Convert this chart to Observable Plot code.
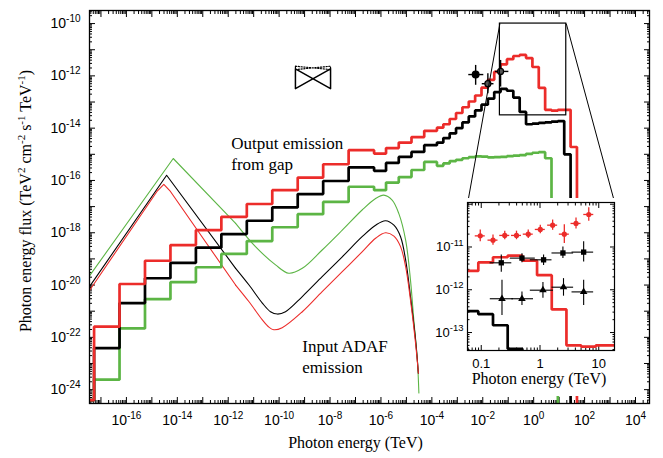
<!DOCTYPE html>
<html><head><meta charset="utf-8">
<script src="https://cdn.jsdelivr.net/npm/d3@7"></script>
<script src="https://cdn.jsdelivr.net/npm/@observablehq/plot@0.6"></script>
<style>
body{margin:0;background:#fff;}
#wrap{position:relative;width:663px;height:458px;}
#inset{position:absolute;left:423px;top:198px;line-height:0;}
#main{line-height:0;}
</style></head><body><div id="wrap"><div id="main"></div><div id="inset"></div></div>
<script>
// ---------------- data (log10 values) ----------------
// photon energy bin edges of the gap output spectra (log10 TeV)
const binEdges = [-17.27,-16.27,-15.27,-14.27,-13.27,-12.27,-11.27,-10.27,-9.27,-8.27,-7.27,-6.27,-5.8,-5.3,-4.8,-4.3,-3.8,-3.55,-3.3,-3.05,-2.8,-2.55,-2.3,-2.05,-1.8,-1.55,-1.3,-1.05,-0.8,-0.55,-0.3,-0.05,0.2,0.45,0.7,0.95,1.2,1.45,1.7];
// output emission from gap (log10 flux per bin)
const gapRed = [-21.59,-19.96,-19.07,-18.47,-17.90,-17.39,-16.90,-16.37,-15.89,-15.38,-14.84,-14.97,-14.76,-14.55,-14.34,-14.10,-13.98,-13.85,-13.65,-13.42,-13.2,-12.98,-12.75,-12.45,-12.15,-11.85,-11.56,-11.36,-11.24,-11.2,-11.32,-11.66,-12.46,-13.3,-13.33,-13.3,-13.3,-14.72];
const gapBlack = [-22.41,-20.69,-19.74,-19.15,-18.57,-18.05,-17.54,-17.03,-16.52,-16.02,-15.50,-15.63,-15.33,-15.10,-14.91,-14.65,-14.55,-14.38,-14.2,-14.0,-13.78,-13.55,-13.32,-13.1,-12.87,-12.62,-12.5,-12.57,-12.83,-13.38,-13.85,-13.83,-13.80,-13.78,-13.75,-13.73,-15.0];
const gapGreen = [-23.62,-21.66,-20.54,-19.89,-19.32,-18.81,-18.32,-17.79,-17.29,-16.82,-16.24,-16.37,-16.08,-15.87,-15.6,-15.29,-15.44,-15.35,-15.26,-15.21,-15.15,-15.11,-15.08,-15.09,-15.12,-15.11,-15.10,-15.07,-15.05,-15.03,-14.98,-14.94,-14.92,-15.15,-23.5];
const gapLeftLevel = -24.4;   // level before the first bin
const gapDropLevel = -25;     // level after the last bin

// input ADAF emission: [log10 E, log10 flux]; "Rise" = straight synchrotron part, "Hump" = smooth part
const adafGreenRise = [[-17.45,-19.65],[-14.16,-15.16],[-11.71,-17.64]];
const adafGreenHump = [[-11.71,-17.64],[-10.93,-18.53],[-10.14,-19.23],[-9.62,-19.55],[-9.09,-19.36],[-8.31,-18.66],[-7.52,-17.90],[-6.74,-17.13],[-6.21,-16.69],[-5.89,-16.56],[-5.56,-16.75],[-5.30,-17.26],[-5.03,-18.28],[-4.84,-19.81],[-4.71,-21.33],[-4.57,-22.86],[-4.51,-24.13]];
const adafBlackRise = [[-17.45,-20.06],[-14.42,-15.80],[-11.71,-19.36]];
const adafBlackHump = [[-11.71,-19.36],[-11.19,-19.99],[-10.66,-20.69],[-10.34,-21.02],[-10.07,-21.11],[-9.75,-21.02],[-9.09,-20.44],[-8.31,-19.68],[-7.52,-18.92],[-6.74,-18.15],[-6.21,-17.71],[-5.82,-17.54],[-5.49,-17.71],[-5.23,-18.15],[-5.03,-19.04],[-4.84,-20.44],[-4.64,-22.10],[-4.53,-23.37]];
const adafRedRise = [[-17.45,-20.21],[-14.8,-16.42],[-14.53,-16.15],[-14.27,-16.42],[-11.71,-20.00]];
const adafRedHump = [[-11.71,-20.00],[-11.19,-20.63],[-10.66,-21.33],[-10.40,-21.61],[-10.21,-21.71],[-9.88,-21.63],[-9.09,-21.02],[-8.31,-20.25],[-7.52,-19.49],[-6.74,-18.73],[-6.21,-18.21],[-5.82,-18.00],[-5.49,-18.13],[-5.23,-18.53],[-5.03,-19.30],[-4.84,-20.57],[-4.64,-22.22],[-4.53,-23.37]];

// X-ray bow ties (log10 E, log10 flux)
const bowtieSolid = [[-9.36,-11.73],[-7.98,-12.49],[-7.98,-11.73],[-9.36,-12.49],[-9.36,-11.73]];
const bowtieDotted = [[-9.36,-11.63],[-7.98,-11.76],[-7.98,-11.63],[-9.36,-11.76],[-9.36,-11.63]];

// observed points in main panel
const obsE = [-2.28,-1.80,-1.30];
const obsF = [-11.95,-12.30,-11.83];
const obsELo = [-2.55,-2.02,-1.50];
const obsEHi = [-1.96,-1.56,-0.975];
const obsFLo = [-12.36,-12.68,-12.43];
const obsFHi = [-11.60,-11.92,-11.41];

// inset: red points
const redPtE = [-1.017,-0.80,-0.60,-0.40,-0.20,0.005,0.215,0.414,0.613,0.83];
const redPtF = [-10.74,-10.84,-10.73,-10.73,-10.70,-10.59,-10.49,-10.70,-10.45,-10.24];
const redPtFErr = [0.14,0.12,0.10,0.10,0.10,0.10,0.12,0.22,0.13,0.16];
const redPtEErr = [0.085,0.085,0.085,0.085,0.085,0.085,0.085,0.085,0.085,0.085];
// inset: black squares
const sqE = [-0.659,-0.307,0.061,0.39,0.743];
const sqF = [-11.37,-11.26,-11.30,-11.14,-11.12];
const sqELo = [-0.85,-0.506,-0.165,0.204,0.545];
const sqEHi = [-0.48,-0.08,0.204,0.572,0.913];
const sqFLo = [-11.59,-11.37,-11.43,-11.27,-11.35];
const sqFHi = [-11.19,-11.16,-11.19,-11.0,-10.88];
// inset: black triangles
const triE = [-0.647,-0.307,0.05,0.40,0.743];
const triF = [-12.21,-12.21,-12.01,-11.94,-12.05];
const triELo = [-0.846,-0.48,-0.165,0.204,0.545];
const triEHi = [-0.45,-0.11,0.23,0.572,0.913];
const triFLo = [-12.60,-12.37,-12.2,-12.15,-12.37];
const triFHi = [-11.78,-12.05,-11.83,-11.74,-11.78];

// zoom box and connector ends (log10 E, log10 flux)
const zoomBox = {e1:-1.327, e2:1.28, f1:-10.0, f2:-13.51};
const connectorEnds = [{e:-2.59, f:-16.84}, {e:3.18, f:-16.84}];

const notes = [
  {e:-11.88, f:-15.61, text:"Output emission\nfrom gap"},
  {e:-9.09, f:-23.37, text:"Input ADAF\nemission"}
];
const yTitle = "Photon energy flux (TeV2 cm-2 s-1 TeV-1)";
const yTitleParts = [["Photon energy flux (TeV", 0], ["2", 1], [" cm", 0], ["-2", 1], [" s", 0], ["-1", 1], [" TeV", 0], ["-1", 1], [")", 0]];
const xTitle = "Photon energy (TeV)";

// ---------------- helpers ----------------
const RED = "#ec2c2a", GREEN = "#5cb545", BLACK = "#000";
const SANS = "'Liberation Sans', Arial, Helvetica, sans-serif";
const SERIF = "'Liberation Serif', 'Times New Roman', Times, serif";
const p10 = v => Math.pow(10, v);
const xDom = [-17.45, 4.55], yDom = [-24.53, -9.5];

function stepSeries(vals) {
  const pts = [{x: p10(xDom[0]), y: p10(gapLeftLevel)}];
  vals.forEach((v, i) => pts.push({x: p10(binEdges[i]), y: p10(v)}));
  pts.push({x: p10(binEdges[vals.length]), y: p10(gapDropLevel)});
  return pts;
}
const pairs = arr => arr.map(([e, f]) => ({x: p10(e), y: p10(f)}));
function minorTicks(lo, hi) {
  const out = [];
  for (let k = Math.floor(lo); k <= Math.ceil(hi); k++)
    for (let m = 2; m <= 9; m++) { const v = m * p10(k); const l = Math.log10(v); if (l > lo && l < hi) out.push(v); }
  return out;
}
const decades = (a, b, s = 1) => d3.range(a, b + 1, s).map(p10);
const expFmt = d => "10^" + Math.round(Math.log10(d));
const blank = () => "";

function tickAxes(axis, anchors, major, minor, big, small) {
  const out = [];
  for (const a of anchors) {
    out.push(axis(major, {anchor: a, tickSize: -big, tickFormat: blank, label: null}));
    out.push(axis(minor, {anchor: a, tickSize: -small, tickFormat: blank, label: null}));
  }
  return out;
}

const steps = [[gapGreen, GREEN], [gapBlack, BLACK], [gapRed, RED]];
const adaf = [[adafGreenRise, adafGreenHump, GREEN], [adafBlackRise, adafBlackHump, BLACK], [adafRedRise, adafRedHump, RED]];

const obs = obsE.map((e, i) => ({x: p10(e), y: p10(obsF[i]), xlo: p10(obsELo[i]), xhi: p10(obsEHi[i]), ylo: p10(obsFLo[i]), yhi: p10(obsFHi[i]), k: i}));

// ---------------- main chart ----------------
const main = Plot.plot({
  width: 663, height: 458,
  marginLeft: 89, marginRight: 14, marginTop: 10, marginBottom: 55,
  x: {type: "log", domain: xDom.map(p10)},
  y: {type: "log", domain: yDom.map(p10)},
  style: {fontFamily: SANS, fontSize: "14px", background: "white", color: "black"},
  marks: [
    Plot.axisY(decades(-24, -10, 2), {anchor: "left", tickSize: 0, tickPadding: 9, tickFormat: expFmt, fontSize: 14, label: null}),
    Plot.axisX(decades(-16, 4, 2), {anchor: "bottom", tickSize: 0, tickPadding: 12, tickFormat: expFmt, fontSize: 14, label: null}),
    ...tickAxes(Plot.axisY, ["left", "right"], decades(-24, -10), minorTicks(yDom[0], yDom[1]), 6, 3),
    ...tickAxes(Plot.axisX, ["bottom", "top"], decades(-17, 4), minorTicks(xDom[0], xDom[1]), 6, 3),
    // input ADAF emission
    ...adaf.flatMap(([rise, hump, c]) => [
      Plot.line(pairs(rise), {x: "x", y: "y", stroke: c, strokeWidth: 1.1, clip: true}),
      Plot.line(pairs(hump), {x: "x", y: "y", stroke: c, strokeWidth: 1.1, curve: "catmull-rom", clip: true})
    ]),
    // output emission from gap
    ...steps.map(([vals, c]) => Plot.line(stepSeries(vals), {x: "x", y: "y", stroke: c, strokeWidth: 2.7, curve: "step-after", clip: true, strokeLinejoin: "miter"})),
    // bow ties
    Plot.line(pairs(bowtieSolid), {x: "x", y: "y", stroke: BLACK, strokeWidth: 1.5}),
    Plot.line(pairs(bowtieDotted), {x: "x", y: "y", stroke: BLACK, strokeWidth: 1.2, strokeDasharray: "1.2,1.6"}),
    // observed points
    Plot.ruleY(obs, {y: "y", x1: "xlo", x2: "xhi", stroke: BLACK, strokeWidth: 1.4}),
    Plot.ruleX(obs, {x: "x", y1: "ylo", y2: "yhi", stroke: BLACK, strokeWidth: 1.4}),
    Plot.dot(obs, {x: "x", y: "y", r: d => d.k === 0 ? 3.8 : 3, fill: d => d.k === 0 ? "#000" : "#555", stroke: BLACK, strokeWidth: 1.2}),
    // zoom box + connectors
    Plot.rect([zoomBox], {x1: d => p10(d.e1), x2: d => p10(d.e2), y1: d => p10(d.f1), y2: d => p10(d.f2), fill: "none", stroke: BLACK, strokeWidth: 1.2}),
    Plot.link(connectorEnds, {x1: (d, i) => p10(i ? zoomBox.e2 : zoomBox.e1), y1: p10(zoomBox.f1), x2: d => p10(d.e), y2: d => p10(d.f), stroke: BLACK, strokeWidth: 1}),
    // annotations
    Plot.text(notes, {x: d => p10(d.e), y: d => p10(d.f), text: "text", textAnchor: "start", lineAnchor: "bottom", lineHeight: 1.25, fontSize: 17, fontFamily: SERIF, fill: BLACK}),
    Plot.text([xTitle], {frameAnchor: "bottom", dy: 44, dx: -14, textAnchor: "middle", lineAnchor: "bottom", text: d => d, fontSize: 16, fontFamily: SERIF}),
    Plot.text([yTitle], {frameAnchor: "left", dx: -64, dy: -6, rotate: -90, textAnchor: "middle", lineAnchor: "middle", text: d => d, fontSize: 16, fontFamily: SERIF}),
    Plot.frame({stroke: BLACK, strokeWidth: 1.3})
  ]
});

// ---------------- inset ----------------
const insXDom = [-1.234, 1.268], insYDom = [-13.42, -9.96];
const redPts = redPtE.map((e, i) => ({x: p10(e), y: p10(redPtF[i]), xlo: p10(e - redPtEErr[i]), xhi: p10(e + redPtEErr[i]), ylo: p10(redPtF[i] - redPtFErr[i]), yhi: p10(redPtF[i] + redPtFErr[i])}));
const sqPts = sqE.map((e, i) => ({x: p10(e), y: p10(sqF[i]), xlo: p10(sqELo[i]), xhi: p10(sqEHi[i]), ylo: p10(sqFLo[i]), yhi: p10(sqFHi[i])}));
const triPts = triE.map((e, i) => ({x: p10(e), y: p10(triF[i]), xlo: p10(triELo[i]), xhi: p10(triEHi[i]), ylo: p10(triFLo[i]), yhi: p10(triFHi[i])}));
const errMarks = (pts, c, w) => [
  Plot.ruleY(pts, {y: "y", x1: "xlo", x2: "xhi", stroke: c, strokeWidth: w, clip: true}),
  Plot.ruleX(pts, {x: "x", y1: "ylo", y2: "yhi", stroke: c, strokeWidth: w, clip: true})
];

const inset = Plot.plot({
  width: 197, height: 198,
  marginLeft: 44, marginRight: 6, marginTop: 4, marginBottom: 46,
  x: {type: "log", domain: insXDom.map(p10)},
  y: {type: "log", domain: insYDom.map(p10)},
  style: {fontFamily: SANS, fontSize: "13px", background: "white", color: "black"},
  marks: [
    Plot.axisY(decades(-13, -11), {anchor: "left", tickSize: 0, tickPadding: 4, tickFormat: expFmt, fontSize: 13, label: null}),
    Plot.axisX(decades(-1, 1), {anchor: "bottom", tickSize: 0, tickPadding: 8, tickFormat: d3.format("~g"), fontSize: 13, label: null}),
    ...tickAxes(Plot.axisY, ["left", "right"], decades(-13, -10), minorTicks(insYDom[0], insYDom[1]), 5, 2.5),
    ...tickAxes(Plot.axisX, ["bottom", "top"], decades(-1, 1), minorTicks(insXDom[0], insXDom[1]), 5, 2.5),
    Plot.line(stepSeries(gapBlack), {x: "x", y: "y", stroke: BLACK, strokeWidth: 2.7, curve: "step-after", clip: true, strokeLinejoin: "miter"}),
    Plot.line(stepSeries(gapRed), {x: "x", y: "y", stroke: RED, strokeWidth: 2.7, curve: "step-after", clip: true, strokeLinejoin: "miter"}),
    ...errMarks(redPts, RED, 1.3),
    Plot.dot(redPts, {x: "x", y: "y", r: 2.6, fill: RED, clip: true}),
    ...errMarks(sqPts, BLACK, 1.1),
    Plot.dot(sqPts, {x: "x", y: "y", symbol: "square", r: 3, fill: BLACK}),
    ...errMarks(triPts, BLACK, 1.1),
    Plot.dot(triPts, {x: "x", y: "y", symbol: "triangle", r: 2.8, fill: BLACK}),
    Plot.text([xTitle], {frameAnchor: "bottom", dy: 33, dx: -2, textAnchor: "middle", lineAnchor: "bottom", text: d => d, fontSize: 16, fontFamily: SERIF}),
    Plot.frame({stroke: BLACK, strokeWidth: 1.2})
  ]
});

document.getElementById("main").append(main);
document.getElementById("inset").append(inset);

// ---------------- superscripts ----------------
function supAxis(svg, supSize, shift) {
  d3.select(svg).selectAll('g[aria-label$="tick label"] text').each(function () {
    const m = /^10\^(-?\d+)$/.exec(this.textContent);
    if (!m) return;
    const t = d3.select(this);
    t.text(null);
    t.append("tspan").text("10");
    t.append("tspan").attr("dy", -shift).attr("font-size", supSize).text(m[1]);
  });
}
supAxis(main, 10, 6);
supAxis(inset, 9.5, 5.5);

function richText(node, parts, supSize, shift) {
  const t = d3.select(node);
  t.text(null);
  let up = false;
  for (const [s, sup] of parts) {
    const ts = t.append("tspan").text(s);
    if (sup) { ts.attr("font-size", supSize); if (!up) { ts.attr("dy", -shift); up = true; } }
    else if (up) { ts.attr("dy", shift); up = false; }
  }
}
d3.select(main).selectAll("text").filter(function () { return this.textContent === yTitle; })
  .each(function () { richText(this, yTitleParts, 11, 6); });
</script></body></html>
